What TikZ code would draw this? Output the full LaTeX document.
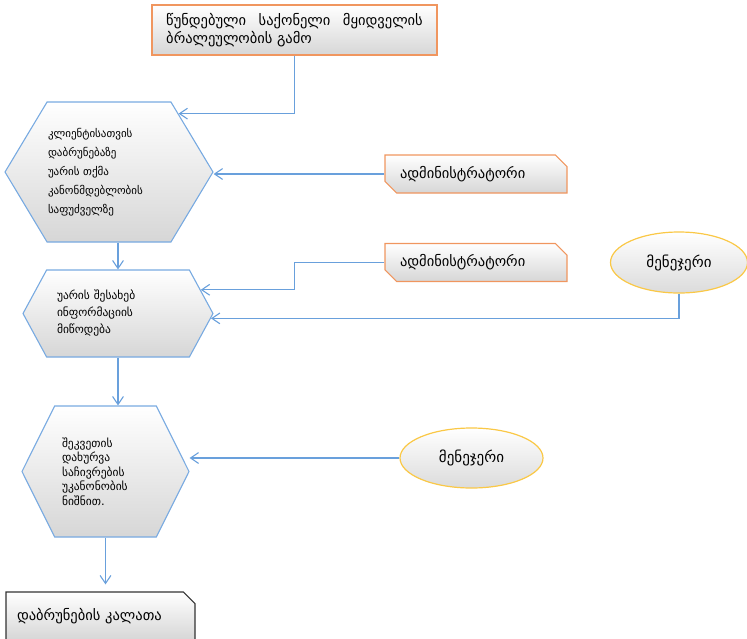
\documentclass[tikz,border=0pt]{standalone}
\usepackage{fontspec}
\setmainfont{DejaVu Sans}
\usepackage{tikz}
\usetikzlibrary{
  arrows.meta,
  positioning,
  shapes.symbols,
  shapes.misc,
  shapes.geometric
}
\definecolor{linkblue}{RGB}{105,160,220}
\definecolor{hexblue}{RGB}{120,170,225}
\definecolor{boxorange}{RGB}{240,150,95}
\definecolor{ovalgold}{RGB}{250,200,70}

\begin{document}
\begin{tikzpicture}[
  x=1pt,
  y=-1pt,
  hexstep/.style={
    shape=signal,
    signal to=west and east,
    draw=hexblue,
    line width=1.1pt,
    top color=white,
    bottom color=black!16,
    align=left,
    inner sep=0pt
  },
  role/.style={
    chamfered rectangle,
    chamfered rectangle corners={north east,south west},
    chamfered rectangle xsep=8pt,
    draw=boxorange,
    line width=1.2pt,
    top color=white,
    bottom color=black!16,
    minimum width=182,
    minimum height=38,
    inner xsep=7pt,
    text width=152pt,
    align=left,
    font=\fontsize{14.5}{17}\selectfont
  },
  oval/.style={
    ellipse,
    draw=ovalgold,
    line width=1.2pt,
    top color=white,
    bottom color=black!14,
    inner sep=0pt,
    font=\fontsize{15}{17}\selectfont
  },
  arrow/.style={
    -{Straight Barb[length=2.8mm,width=3.8mm]},
    draw=linkblue,
    line width=1.1pt
  }
]
\useasboundingbox (0,0) rectangle (747,638);

\node[draw=boxorange,line width=1.2pt,top color=white,bottom color=black!16,
  minimum width=285,minimum height=50,inner xsep=12pt,
  align=left,font=\fontsize{14.5}{18}\selectfont] (ask) at (294.5,30)
  {წუნდებული\hspace{8pt} საქონელი\hspace{8pt} მყიდველის\\ბრალეულობის გამო};

\node[hexstep,signal pointer angle=118,minimum width=208,minimum height=140,
  text width=122pt,font=\fontsize{11}{19}\selectfont] (h1) at (109,172)
  {კლიენტისათვის\\დაბრუნებაზე\\უარის თქმა\\კანონმდებლობის\\საფუძველზე};
\node[hexstep,signal pointer angle=123,minimum width=190,minimum height=87,
  text width=122pt,font=\fontsize{11.5}{17}\selectfont] (h2) at (118,313.5)
  {უარის შესახებ\\ინფორმაციის\\მიწოდება};
\node[hexstep,signal pointer angle=127,minimum width=167,minimum height=131,
  text width=87pt,font=\fontsize{11.5}{14.5}\selectfont] (h3) at (105.5,471.5)
  {შეკვეთის\\დახურვა\\საჩივრების\\უკანონობის\\ნიშნით.};

\node[role] (adm1) at (476,174) {ადმინისტრატორი};
\node[role] (adm2) at (476,262.5) {ადმინისტრატორი};

\node[oval,minimum width=137,minimum height=61] (mgr1) at (679,262.5)
  {მენეჯერი};
\node[oval,minimum width=143,minimum height=60] (mgr2) at (471.5,458)
  {მენეჯერი};

\node[chamfered rectangle,chamfered rectangle corners=north east,
  chamfered rectangle xsep=8pt,draw=black!80,line width=1.2pt,
  top color=white,bottom color=black!16,minimum width=189,
  minimum height=48,inner xsep=3pt,text width=167pt,align=left,
  font=\fontsize{14.5}{17}\selectfont] (cart) at (100.5,616)
  {დაბრუნების კალათა};

\draw[arrow] (ask.south) |- (h1.40);
\draw[arrow] (adm1.west) -- (adm1.west -| h1.east);
\draw[arrow] (h2.north |- h1.south) -- (h2.north);
\draw[arrow] (adm2.west) -- (ask.south |- adm2.west) |- (h2.16);
\draw[arrow] (mgr1.south) |- (h2.-3);
\draw[arrow] (h2.south) -- (h2.south |- h3.north);
\draw[arrow] (mgr2.west) -- (mgr2.west -| h3.east);
\draw[arrow,shorten >=7pt] (h3.south) -- (h3.south |- cart.north);

\end{tikzpicture}
\end{document}
